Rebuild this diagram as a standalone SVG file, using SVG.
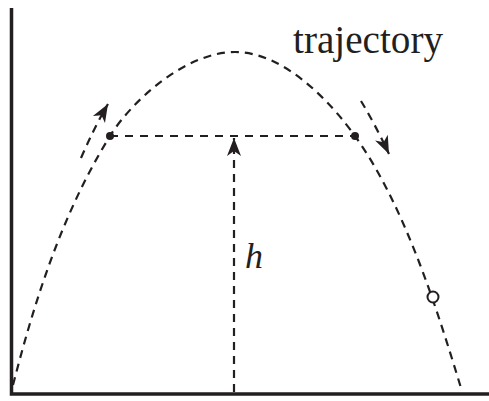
<svg xmlns="http://www.w3.org/2000/svg" width="489" height="401" viewBox="0 0 489 401">
  <style>
    .axis { stroke: #231f20; stroke-width: 3.5; fill: none; }
    .dash { stroke: #231f20; stroke-width: 2.2; fill: none; stroke-dasharray: 8 6; }
    .hdash { stroke: #231f20; stroke-width: 2.2; fill: none; stroke-dasharray: 8 7; }
    .dot { fill: #231f20; }
    text { font-family: Liberation Serif, Times New Roman, DejaVu Serif, serif; fill: #231f20; }
  </style>
  <defs>
    <marker id="arr" markerUnits="userSpaceOnUse" markerWidth="22" markerHeight="18" viewBox="-20 -9 22 18" refX="0" refY="0" orient="auto">
      <path d="M0,0 L-18,-7 L-13,0 L-18,7 Z" fill="#231f20"/>
    </marker>
  </defs>
  <rect width="489" height="401" fill="#ffffff"/>
  <g id="axes">
    <path class="axis" d="M11.5,8 L11.5,394 L489,394"/>
  </g>
  <g id="connectors">
    <path id="trajectory-curve" class="dash" d="M13,385 C35.4,297.8 62.7,212.5 110,136 C131,102 185,52 235,52 C285,52 331.8,103.6 355,136 C404.3,204.9 436.3,306.7 461,388"/>
    <path id="height-line" class="hdash" d="M110,136 L355,136"/>
    <path id="h-arrow" class="dash" d="M234,392 L234,138" marker-end="url(#arr)"/>
    <path id="up-arrow" class="dash" d="M81,158 Q94,128 108,104" marker-end="url(#arr)"/>
    <path id="down-arrow" class="dash" d="M361,101 Q376,126 389,154" marker-end="url(#arr)"/>
  </g>
  <g id="point-left"><circle class="dot" cx="110" cy="136" r="4"/></g>
  <g id="point-right"><circle class="dot" cx="355" cy="136" r="4"/></g>
  <g id="ball"><circle cx="433" cy="297" r="5.5" fill="#ffffff" stroke="#231f20" stroke-width="2"/></g>
  <g id="label-trajectory"><text x="293" y="53" font-size="40" textLength="150" lengthAdjust="spacingAndGlyphs">trajectory</text></g>
  <g id="label-h"><text x="245" y="268" font-size="36" font-style="italic">h</text></g>
</svg>
